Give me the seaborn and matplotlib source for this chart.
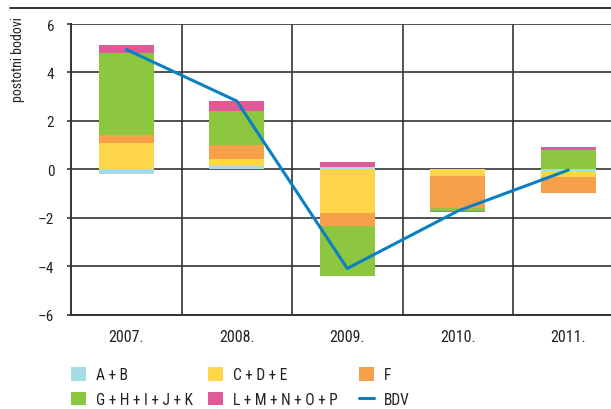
import numpy as np
import matplotlib
matplotlib.use("Agg")
import matplotlib.pyplot as plt
import matplotlib.lines as mlines
import matplotlib.patches as mpatches
from matplotlib import font_manager
import seaborn as sns

# ---- data ----
years = ['2007.', '2008.', '2009.', '2010.', '2011.']
series_names = ['A + B', 'C + D + E', 'F', 'G + H + I + J + K', 'L + M + N + O + P']
ab = [-0.19, 0.14, 0.08, 0.00, -0.12]
cde = [1.07, 0.27, -1.82, -0.29, -0.21]
f_ = [0.33, 0.61, -0.50, -1.32, -0.66]
ghijk = [3.42, 1.38, -2.10, -0.11, 0.78]
lmnop = [0.30, 0.41, 0.22, -0.04, 0.14]
bdv = [4.95, 2.82, -4.09, -1.72, -0.03]
yticks = [-6, -4, -2, 0, 2, 4, 6]

colors = ['#a6dce6', '#ffd54a', '#f7a04a', '#8dc63f', '#e05a9a']
line_color = '#0a80c4'

sns.set_theme(style="white")


def pick_font(cands):
    for c in cands:
        try:
            font_manager.findfont(font_manager.FontProperties(family=c), fallback_to_default=False)
            return c
        except Exception:
            pass
    return 'DejaVu Sans'


main_font = pick_font(['Liberation Sans Narrow', 'Roboto Condensed', 'DejaVu Sans Condensed', 'Roboto'])
plt.rcParams['font.family'] = [main_font, 'DejaVu Sans']
plt.rcParams['axes.unicode_minus'] = True
narrow = main_font in ('Liberation Sans Narrow', 'Roboto Condensed', 'DejaVu Sans Condensed')
scale = 1.0 if narrow else 0.9

W, H = 611, 410
fig = plt.figure(figsize=(W / 100, H / 100), dpi=100)
left_px, right_px, top_px, bot_px = 71, 623.5, 25, 315.7
ax = fig.add_axes([left_px / W, 1 - bot_px / H, (right_px - left_px) / W, (bot_px - top_px) / H])

pos_base = np.zeros(len(years))
neg_base = np.zeros(len(years))
for vals, c in zip([ab, cde, f_, ghijk, lmnop], colors):
    v = np.array(vals, dtype=float)
    bottoms = np.where(v >= 0, pos_base, neg_base)
    sns.barplot(x=years, y=v, bottom=bottoms, color=c, saturation=1, width=0.5,
                errorbar=None, linewidth=0, edgecolor='none', ax=ax, zorder=2)
    pos_base = pos_base + np.where(v >= 0, v, 0)
    neg_base = neg_base + np.where(v < 0, v, 0)

sns.pointplot(x=years, y=bdv, color=line_color, markers="", linestyles="-",
              errorbar=None, ax=ax, zorder=3, linewidth=2.2)

ax.set_xlim(-0.5, 4.5)
ax.set_ylim(-6, 6)
ax.set_yticks(yticks)
ax.set_yticklabels([str(t).replace('-', '\u2013') for t in yticks])

gc = '#333333'
for yv in yticks:
    ax.axhline(yv, color=gc, lw=1.2, zorder=0.5)
for xv in np.arange(0.5, 4.5, 1.0):
    ax.axvline(xv, color=gc, lw=1.2, zorder=0.5)
for s in ['top', 'right']:
    ax.spines[s].set_visible(False)
for s in ['left', 'bottom']:
    ax.spines[s].set_color(gc)
    ax.spines[s].set_linewidth(1.4)
    ax.spines[s].set_zorder(0.6)

ax.set_xlabel('')
ax.set_ylabel('')
ax.tick_params(axis='y', length=3, width=1.2, color=gc, pad=9, labelsize=11 * scale,
               labelcolor='#222222', left=True)
ax.tick_params(axis='x', length=0, pad=10, labelsize=11.5 * scale, labelcolor='#222222')

fig.text(18 / W, 1 - 60 / H, 'postotni bodovi', rotation=90, ha='center', va='center',
         fontsize=10 * scale, color='#222222')

# top rule across figure
fig.add_artist(mlines.Line2D([10 / W, 1.0], [1 - 9 / H, 1 - 9 / H], transform=fig.transFigure,
                             color='#222222', lw=1.3))

handles = [mpatches.Patch(facecolor=c, edgecolor='none') for c in colors]
line_handle = mlines.Line2D([], [], color=line_color, lw=2.2)
cols = [
    ([handles[0], handles[3]], [series_names[0], series_names[3]], 71),
    ([handles[1], handles[4]], [series_names[1], series_names[4]], 208),
    ([handles[2], line_handle], [series_names[2], 'BDV'], 359),
]
fs = 11.2 * scale
for hs, ls, xpx in cols:
    fig.legend(hs, ls, loc='upper left', bbox_to_anchor=(xpx / W, 1 - 368 / H),
               frameon=False, borderpad=0, borderaxespad=0, handlelength=15 / (fs * 1.389),
               handleheight=15 / (fs * 1.389), handletextpad=0.65, labelspacing=0.62,
               fontsize=fs, labelcolor='#222222')

fig.savefig('out.png', dpi=100)
